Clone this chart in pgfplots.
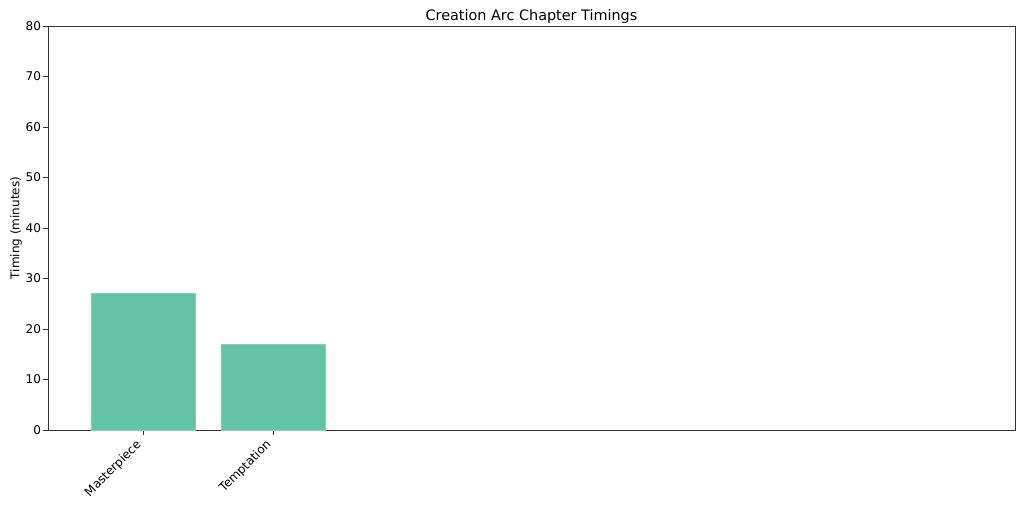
\documentclass[border=0pt]{standalone}
\usepackage{pgfplots}
\pgfplotsset{compat=1.18}
\usepackage{fontspec}
\setmainfont{DejaVu Sans}
\definecolor{barc}{HTML}{66C2A5}
\definecolor{axc}{HTML}{333333}
\begin{document}
\begin{tikzpicture}[x=1pt,y=1pt]
\useasboundingbox (-48,-77) rectangle (976,430);
\begin{axis}[
  at={(0,0)}, anchor=south west,
  scale only axis,
  width=967pt, height=404pt,
  xmin=-0.73, xmax=6.71,
  ymin=0, ymax=80,
  xtick={0,1},
  xticklabels={Masterpiece,Temptation},
  ytick={0,10,...,80},
  tick align=outside,
  tick pos=left,
  major tick length=5pt,
  axis line style={axc},
  tick style={axc},
  every tick label/.style={font=\fontsize{12}{14}\selectfont, text=black},
  /pgf/number format/assume math mode=true,
  xticklabel style={rotate=45, anchor=north east, inner sep=2pt, xshift=-6pt, yshift=5pt},
  yticklabel style={xshift=1.5pt},
  ylabel={Timing (minutes)},
  ylabel style={font=\fontsize{12}{14}\selectfont, yshift=-3pt},
  title={Creation Arc Chapter Timings},
  title style={font=\fontsize{14.4}{17}\selectfont, yshift=-7pt},
]
\addplot[ybar, bar width=0.8, fill=barc, draw=barc!80!white, bar shift=0pt]
  coordinates {(0,27) (1,17)};
\end{axis}
\end{tikzpicture}
\end{document}
